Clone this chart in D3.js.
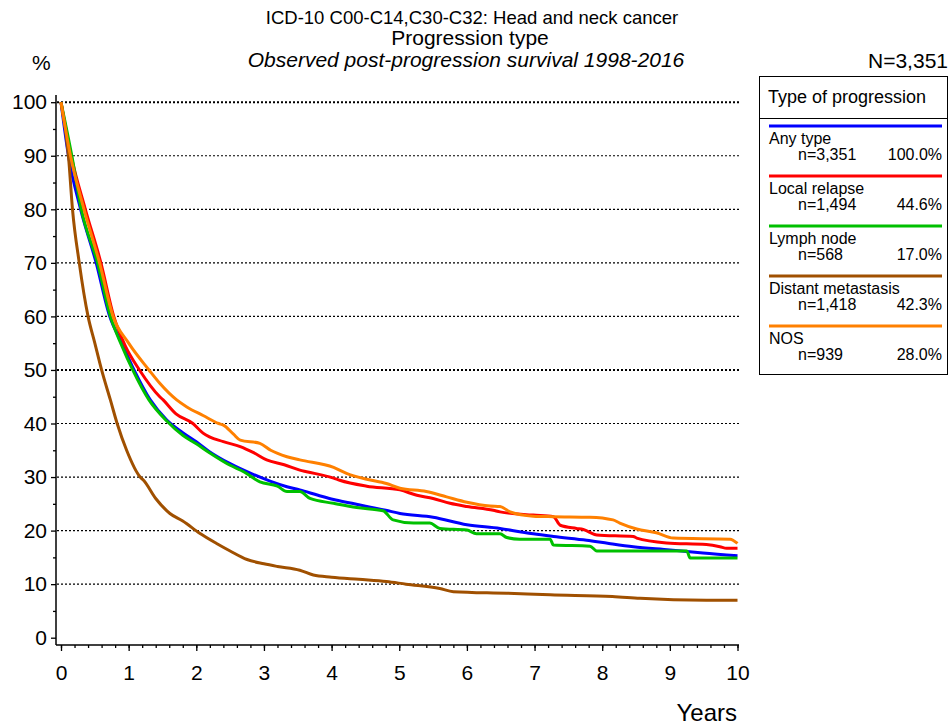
<!DOCTYPE html>
<html lang="en">
<head>
<meta charset="utf-8">
<title>Post-progression survival</title>
<script src="https://cdn.jsdelivr.net/npm/d3@7"></script>
<style>
  body { margin: 0; background: #fff; }
  text { font-family: "Liberation Sans", Arial, sans-serif; fill: #000; }
</style>
</head>
<body>
<script>
// survival curves: [years, percent]
var anyType = [[0,100],[0.11,90],[0.29,80],[0.52,70],[0.72,60],[0.9,55],[1.08,50],[1.32,44.4],[1.56,40.7],[1.8,38.3],[2.0,36.6],[2.2,34.7],[2.5,32.5],[2.84,30.5],[3.1,29.2],[3.34,28.2],[3.53,27.6],[3.8,26.6],[4.03,25.8],[4.3,25.1],[4.52,24.5],[4.8,23.8],[5.01,23.2],[5.5,22.5],[6.0,21.1],[6.49,20.4],[6.78,19.8],[6.98,19.4],[7.28,18.9],[7.77,18.2],[8.1,17.6],[8.46,17.0],[9.0,16.4],[9.49,15.8],[10,15.3]];
var localRelapse = [[0,100],[0.15,90],[0.36,80],[0.59,70],[0.78,60],[0.95,54.5],[1.16,50],[1.46,45],[1.51,44.4],[1.7,41.8],[1.95,40],[2.1,38.2],[2.4,36.6],[2.65,35.7],[2.84,34.6],[3.04,33.2],[3.3,32.3],[3.53,31.3],[3.63,31.0],[4.03,29.8],[4.12,29.4],[4.52,28.3],[5.01,27.6],[5.26,26.6],[5.5,26.0],[5.75,25.1],[6.0,24.5],[6.39,23.8],[6.49,23.5],[6.98,22.9],[7.28,22.6],[7.38,21.0],[7.62,20.4],[7.72,20.2],[7.92,19.2],[8.46,18.9],[8.51,18.6],[8.95,17.7],[9.54,17.4],[9.74,17.0],[9.84,16.7],[10,16.7]];
var lymphNode = [[0,100],[0.16,90],[0.3,80],[0.54,70],[0.73,60],[0.9,54.5],[1.06,50],[1.3,44.4],[1.56,40.5],[1.8,37.8],[2.0,36.2],[2.2,34.5],[2.5,32.2],[2.7,31.0],[2.94,29.1],[3.2,28.3],[3.34,27.3],[3.53,27.3],[3.68,26.0],[4.03,25.1],[4.37,24.3],[4.76,23.7],[4.91,22.0],[5.21,21.4],[5.45,21.4],[5.6,20.4],[6.0,20.1],[6.14,19.4],[6.49,19.4],[6.59,18.7],[6.78,18.4],[7.23,18.4],[7.28,17.3],[7.82,17.1],[7.92,16.2],[9.25,16.2],[9.3,14.9],[10,14.9]];
var distantMet = [[0,100],[0.11,90],[0.17,80],[0.27,70],[0.40,60],[0.5,55],[0.6,50],[0.73,44.4],[0.83,40],[0.97,35],[1.17,30],[1.22,29.4],[1.4,26],[1.61,23.2],[1.8,21.8],[2.05,19.5],[2.3,17.6],[2.5,16.2],[2.75,14.6],[3.0,13.8],[3.2,13.3],[3.53,12.6],[3.73,11.7],[4.0,11.3],[4.4,10.9],[4.81,10.5],[5.1,10.0],[5.6,9.2],[5.8,8.6],[6.59,8.3],[7.23,8.0],[8.15,7.7],[8.56,7.35],[9.54,7.0],[10,7.0]];
var nos = [[0,100],[0.14,90],[0.34,80],[0.57,70],[0.77,60],[1.0,55],[1.3,50],[1.46,47.5],[1.71,44.4],[1.86,43.1],[2.1,41.5],[2.33,40],[2.40,39.7],[2.55,38],[2.65,36.9],[2.94,36.3],[3.1,35],[3.34,33.8],[3.53,33.2],[4.03,31.8],[4.22,30.7],[4.52,29.6],[4.81,28.8],[5.01,27.9],[5.4,27.3],[5.7,26.3],[6.0,25.3],[6.34,24.6],[6.49,24.5],[6.64,23.5],[6.98,22.7],[7.28,22.6],[7.82,22.5],[8.16,22.0],[8.26,21.4],[8.51,20.3],[8.8,19.6],[9.05,18.6],[9.89,18.4],[10,17.6]];

var groupNames = ["Any type", "Local relapse", "Lymph node", "Distant metastasis", "NOS"];
var groupN = ["n=3,351", "n=1,494", "n=568", "n=1,418", "n=939"];
var groupPct = ["100.0%", "44.6%", "17.0%", "42.3%", "28.0%"];
var groupColors = ["#0000ff", "#ff0000", "#00c000", "#a05000", "#ff8000"];
var curves = [anyType, localRelapse, lymphNode, distantMet, nos];

var yTicks = d3.range(0, 101, 10);
var xTicks = d3.range(0, 11, 1);

var w = 950, h = 726;

var xScale = d3.scaleLinear().domain([0, 10]).range([61, 737.5]);
var yScale = d3.scaleLinear().domain([0, 100]).range([637.7, 102.2]);

var svg = d3.select("body").append("svg")
  .attr("width", w)
  .attr("height", h);

// titles
svg.append("text").attr("x", 472).attr("y", 24).attr("text-anchor", "middle")
  .style("font-size", "18.5px").text("ICD-10 C00-C14,C30-C32: Head and neck cancer");
svg.append("text").attr("x", 470).attr("y", 45).attr("text-anchor", "middle")
  .style("font-size", "21px").text("Progression type");
svg.append("text").attr("x", 466).attr("y", 67).attr("text-anchor", "middle")
  .style("font-size", "21px").style("font-style", "italic")
  .text("Observed post-progression survival 1998-2016");
svg.append("text").attr("x", 32).attr("y", 70).style("font-size", "21px").text("%");
svg.append("text").attr("x", 948).attr("y", 68).attr("text-anchor", "end")
  .style("font-size", "21px").text("N=3,351");

// dotted grid
svg.selectAll("line.grid")
  .data(yTicks.filter(function(d) { return d > 0; }))
  .enter().append("line")
  .attr("class", "grid")
  .attr("x1", 57).attr("x2", 740)
  .attr("y1", function(d) { return yScale(d); })
  .attr("y2", function(d) { return yScale(d); })
  .attr("stroke", "#000")
  .attr("stroke-width", function(d) { return d % 50 == 0 ? 2 : 1.2; })
  .attr("stroke-dasharray", "2,2");

// y axis
var yAxis = d3.axisLeft(yScale).tickValues(yTicks).tickSize(5).tickPadding(4);
var gy = svg.append("g").attr("transform", "translate(56,0)").call(yAxis);
gy.select(".domain").remove();
gy.selectAll("text").style("font-size", "21px").attr("font-family", null);
var gy2 = svg.append("g").attr("transform", "translate(56,0)")
  .call(d3.axisLeft(yScale).tickValues(d3.range(5, 100, 10)).tickSize(3).tickFormat(""));
gy2.select(".domain").remove();
svg.append("line").attr("x1", 56).attr("x2", 56).attr("y1", 95).attr("y2", 645)
  .attr("stroke", "#000").attr("stroke-width", 1.5);

// x axis
var xAxis = d3.axisBottom(xScale).tickValues(xTicks).tickSize(6).tickPadding(14);
var gx = svg.append("g").attr("transform", "translate(0,645)").call(xAxis);
gx.select(".domain").remove();
gx.selectAll("text").style("font-size", "21px").attr("font-family", null);
var gx2 = svg.append("g").attr("transform", "translate(0,645)")
  .call(d3.axisBottom(xScale).tickValues(d3.range(0, 10.01, 0.2)).tickSize(3).tickFormat(""));
gx2.select(".domain").remove();
svg.append("line").attr("x1", 56).attr("x2", 739).attr("y1", 645).attr("y2", 645)
  .attr("stroke", "#000").attr("stroke-width", 1.5);
svg.selectAll(".tick line").attr("stroke-width", 1.3);

svg.append("text").attr("x", 737).attr("y", 721).attr("text-anchor", "end")
  .style("font-size", "24px").text("Years");

// curves
var line = d3.line()
  .curve(d3.curveMonotoneX)
  .x(function(d) { return xScale(d[0]); })
  .y(function(d) { return yScale(d[1]); });

svg.selectAll("path.curve")
  .data(curves)
  .enter().append("path")
  .attr("class", "curve")
  .attr("d", line)
  .attr("fill", "none")
  .attr("stroke", function(d, i) { return groupColors[i]; })
  .attr("stroke-width", 3)
  .attr("stroke-linejoin", "round");

// legend
var lg = svg.append("g");
lg.append("rect").attr("x", 759.5).attr("y", 76.5).attr("width", 188).attr("height", 298)
  .attr("fill", "none").attr("stroke", "#000").attr("stroke-width", 1);
lg.append("line").attr("x1", 759.5).attr("x2", 947.5).attr("y1", 118.5).attr("y2", 118.5)
  .attr("stroke", "#000").attr("stroke-width", 1);
lg.append("text").attr("x", 768).attr("y", 103).style("font-size", "18px").text("Type of progression");

var entry = lg.selectAll("g.entry")
  .data(groupNames)
  .enter().append("g")
  .attr("class", "entry")
  .attr("transform", function(d, i) { return "translate(0," + (126 + i * 50) + ")"; });
entry.append("line").attr("x1", 769).attr("x2", 942).attr("y1", 0).attr("y2", 0)
  .attr("stroke", function(d, i) { return groupColors[i]; })
  .attr("stroke-width", 3);
entry.append("text").attr("x", 769).attr("y", 18).style("font-size", "16px")
  .text(function(d) { return d; });
entry.append("text").attr("x", 798).attr("y", 34).style("font-size", "16px")
  .text(function(d, i) { return groupN[i]; });
entry.append("text").attr("x", 942).attr("y", 34).attr("text-anchor", "end").style("font-size", "16px")
  .text(function(d, i) { return groupPct[i]; });
</script>
</body>
</html>
